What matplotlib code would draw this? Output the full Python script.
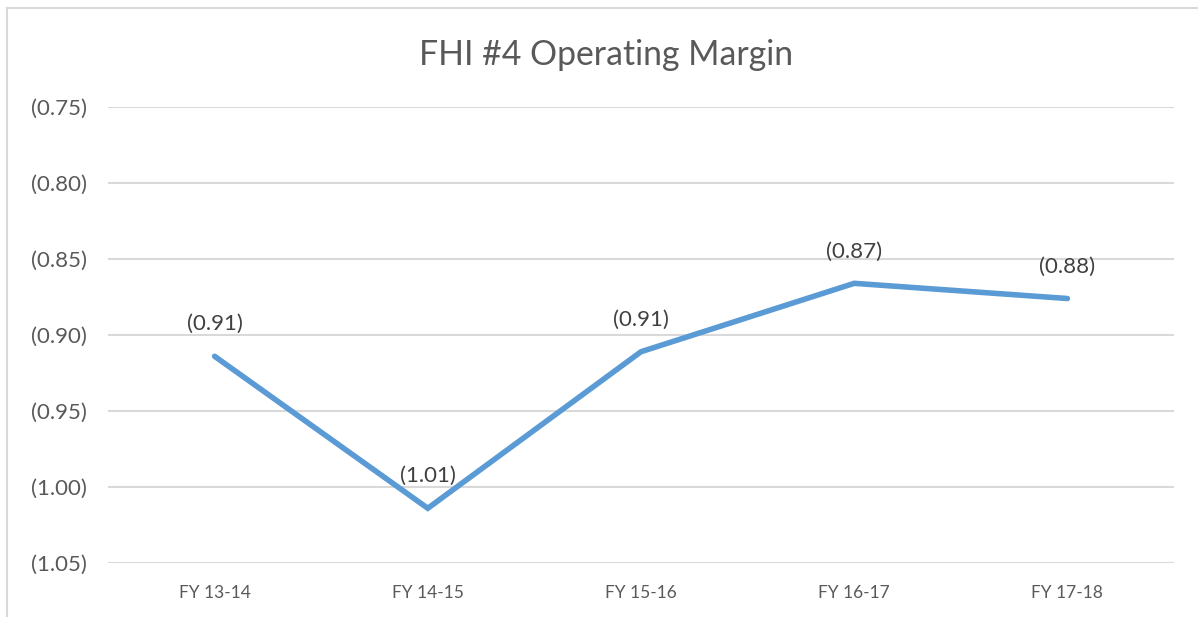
import matplotlib
matplotlib.use('Agg')
import matplotlib.pyplot as plt
from matplotlib.lines import Line2D
from matplotlib.ticker import FuncFormatter

years = ['FY 13-14', 'FY 14-15', 'FY 15-16', 'FY 16-17', 'FY 17-18']
margin = [-0.914, -1.014, -0.911, -0.866, -0.876]
yticks = [-0.75, -0.80, -0.85, -0.90, -0.95, -1.00, -1.05]

plt.rcParams['font.family'] = ['Lato', 'DejaVu Sans']

W, H = 1198, 617
fig = plt.figure(figsize=(W / 100, H / 100), dpi=100)

# chart border (only top and left show in the crop)
fig.add_artist(Line2D([7 / W, 7 / W], [0, 1 - 8 / H], color='#D9D9D9', lw=1.5))
fig.add_artist(Line2D([7 / W, 1], [1 - 8 / H, 1 - 8 / H], color='#D9D9D9', lw=1.5))

ax = fig.add_axes([108 / W, (H - 563) / H, (1174 - 108) / W, (563 - 107) / H])

def paren(v, pos=None):
    return '(%.2f)' % abs(v)

x = list(range(len(years)))
ax.plot(x, margin, color='#5B9BD5', lw=4, solid_capstyle='round', solid_joinstyle='miter', zorder=3)
for xi, v in zip(x, margin):
    ax.annotate(paren(v), (xi, v), xytext=(0, 23), textcoords='offset points',
                ha='center', va='center', fontsize=16, color='#404040')

ax.set_xlim(-0.5, len(years) - 0.5)
ax.set_ylim(-1.05, -0.75)
ax.set_yticks(yticks)
ax.yaxis.set_major_formatter(FuncFormatter(paren))
ax.set_xticks(x)
ax.set_xticklabels(years)
ax.tick_params(axis='both', length=0, colors='#595959')
ax.tick_params(axis='y', pad=15, labelsize=16)
ax.tick_params(axis='x', pad=16, labelsize=12.5)
ax.grid(axis='y', color='#D9D9D9', lw=1.5)
ax.set_axisbelow(True)
for s in ax.spines.values():
    s.set_visible(False)

fig.text(606 / W, 1 - 55 / H, 'FHI #4 Operating Margin', ha='center', va='center',
         fontsize=24.3, color='#595959')

fig.savefig('out.png', dpi=100)
